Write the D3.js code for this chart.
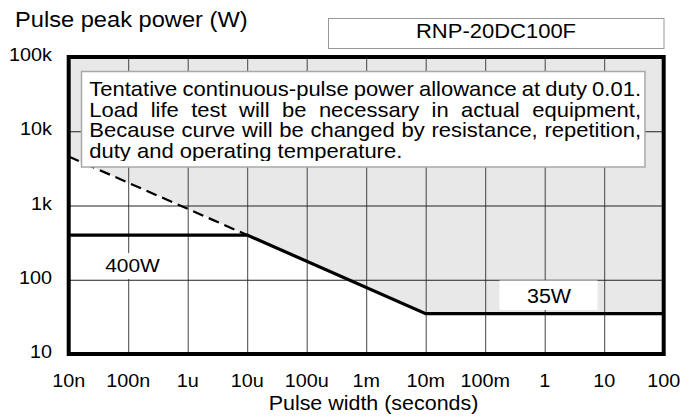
<!DOCTYPE html>
<html>
<head>
<meta charset="utf-8">
<script src="https://cdn.jsdelivr.net/npm/d3@7"></script>
<style>
  body { margin: 0; background: #fff; }
  text { font-family: "Liberation Sans", Arial, sans-serif; fill: #000; }
</style>
</head>
<body>
<svg id="chart" width="696" height="418"></svg>
<script>
// tick values / labels
const xTicks = [1e-8, 1e-7, 1e-6, 1e-5, 1e-4, 1e-3, 1e-2, 1e-1, 1, 10, 100];
const xTickLabels = ["10n", "100n", "1u", "10u", "100u", "1m", "10m", "100m", "1", "10", "100"];
const yTicks = [10, 100, 1e3, 1e4, 1e5];
const yTickLabels = ["10", "100", "1k", "10k", "100k"];

// allowance curve (solid) : pulse width (s) -> peak power (W)
const curveWidth = [1e-8, 1e-5, 1e-2, 100];
const curvePower = [400, 400, 35, 35];
// the sloped part extended back to 10n (dashed)
const dashWidth = [1e-8, 1e-5];
const dashPower = [4570, 400];

const noteLines = [
  "Tentative continuous-pulse power allowance at duty 0.01.",
  "Load life test will be necessary in actual equipment,",
  "Because curve will be changed by resistance, repetition,",
  "duty and operating temperature."
];

const SX = 1.1; // text in the picture is a little wide

const svg = d3.select("#chart");
const plotL = 68.7, plotR = 663.7, plotT = 57, plotB = 354;

const x = d3.scaleLog().domain([1e-8, 100]).range([plotL, plotR]);
const y = d3.scaleLog().domain([10, 1e5]).range([plotB, plotT]);

function txt(g, px, py, s, size, anchor) {
  return g.append("text")
    .attr("transform", `translate(${px},${py}) scale(${SX},1)`)
    .attr("font-size", size)
    .attr("text-anchor", anchor || "start")
    .text(s);
}

// shaded region above the envelope
const envW = [dashWidth[0]].concat(curveWidth.slice(1));
const envP = [dashPower[0]].concat(curvePower.slice(1));
svg.append("path")
  .datum(envW.map((w, i) => [w, envP[i]]))
  .attr("fill", "#e8e8e8")
  .attr("d", d3.area().x(d => x(d[0])).y0(y(1e5)).y1(d => y(d[1])));

// grid
svg.append("g")
  .attr("transform", `translate(0,${plotB})`)
  .call(d3.axisBottom(x).tickValues(xTicks).tickSize(-(plotB - plotT)).tickFormat(""))
  .call(g => g.select(".domain").remove())
  .call(g => g.selectAll("line").attr("stroke", "#444").attr("stroke-width", 1));
svg.append("g")
  .attr("transform", `translate(${plotL},0)`)
  .call(d3.axisLeft(y).tickValues(yTicks).tickSize(-(plotR - plotL)).tickFormat(""))
  .call(g => g.select(".domain").remove())
  .call(g => g.selectAll("line").attr("stroke", "#222").attr("stroke-width", 1));

// value label boxes
const lab = svg.append("g");
lab.append("rect").attr("x", 85).attr("y", 253).attr("width", 96).attr("height", 26).attr("fill", "#fff");
txt(lab, 132.5, 272, "400W", 19, "middle");
lab.append("rect").attr("x", 499.5).attr("y", 280.5).attr("width", 98).attr("height", 29.5).attr("fill", "#fff");
txt(lab, 549, 302.5, "35W", 19.5, "middle");

// curves
svg.append("path")
  .datum(dashWidth.map((w, i) => [w, dashPower[i]]))
  .attr("fill", "none").attr("stroke", "#000").attr("stroke-width", 2.2)
  .attr("stroke-dasharray", "11,6")
  .attr("d", d3.line().x(d => x(d[0])).y(d => y(d[1])));
svg.append("path")
  .datum(curveWidth.map((w, i) => [w, curvePower[i]]))
  .attr("fill", "none").attr("stroke", "#000").attr("stroke-width", 3.2)
  .attr("d", d3.line().x(d => x(d[0])).y(d => y(d[1])));

// note box
const note = svg.append("g");
note.append("rect").attr("x", 81.5).attr("y", 71.5).attr("width", 563.5).attr("height", 95.5)
  .attr("fill", "#fff").attr("stroke", "#a8a8a8").attr("stroke-width", 1.5);
svg.append("clipPath").attr("id", "noteClip")
  .append("rect").attr("x", 82).attr("y", 72).attr("width", 562).attr("height", 89);
const noteText = note.append("g").attr("clip-path", "url(#noteClip)");
const noteX = 89.3, noteRight = 641, noteBase = 96, noteLead = 20.6;
noteLines.forEach((line, i) => {
  const g = noteText.append("g")
    .attr("transform", `translate(${noteX},${noteBase + i * noteLead}) scale(${SX},1)`);
  const words = line.split(" ");
  if (i === noteLines.length - 1) {
    g.append("text").attr("font-size", 20).text(line);
    return;
  }
  const nodes = words.map(w => g.append("text").attr("font-size", 20).text(w));
  const widths = nodes.map(n => n.node().getComputedTextLength());
  const avail = (noteRight - noteX) / SX;
  const gap = (avail - d3.sum(widths)) / (words.length - 1);
  let cx = 0;
  nodes.forEach((n, j) => { n.attr("x", cx); cx += widths[j] + gap; });
});

// frame
svg.append("rect").attr("x", plotL).attr("y", plotT).attr("width", plotR - plotL).attr("height", plotB - plotT)
  .attr("fill", "none").attr("stroke", "#000").attr("stroke-width", 4);

// tick labels
const tl = svg.append("g");
yTicks.forEach((v, i) => txt(tl, 52, y(v) + 4, yTickLabels[i], 18, "end"));
xTicks.forEach((v, i) => txt(tl, x(v), 387, xTickLabels[i], 18, "middle"));

// titles
txt(svg, 15, 27, "Pulse peak power (W)", 21.5, "start");
txt(svg, 373.5, 410, "Pulse width (seconds)", 19.5, "middle");

// part number box
svg.append("rect").attr("x", 328.5).attr("y", 18.5).attr("width", 335.5).attr("height", 30)
  .attr("fill", "#fff").attr("stroke", "#999").attr("stroke-width", 1);
txt(svg, 496, 37.5, "RNP-20DC100F", 20, "middle");
</script>
</body>
</html>
